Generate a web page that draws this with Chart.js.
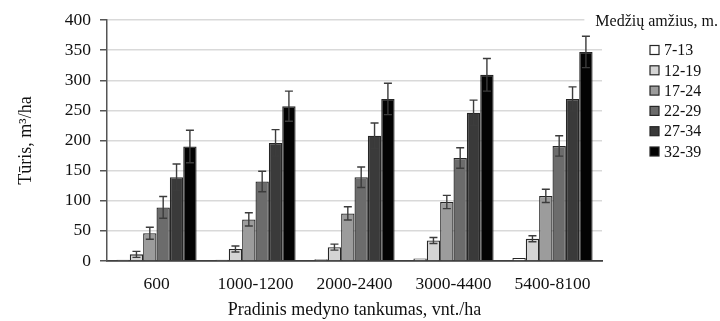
<!DOCTYPE html>
<html>
    <head>
        <script src="https://cdn.jsdelivr.net/npm/chart.js@4.4.0/dist/chart.umd.min.js"></script>
        <style>
            html, body { margin: 0; padding: 0; background: #fff; }
            #wrap { width: 720px; height: 321px; }
        </style>
    </head>
    <body>
        <div id="wrap">
            <canvas id="myChart"></canvas>
        </div>

        <script>
            // DATA
            const categories = ['600', '1000-1200', '2000-2400', '3000-4400', '5400-8100'];
            const ageGroups = ['7-13', '12-19', '17-24', '22-29', '27-34', '32-39'];

            const v7_13  = [2, 2, 3, 4, 5];
            const v12_19 = [11, 20, 23, 34, 37];
            const v17_24 = [46, 69, 79, 98, 108];
            const v22_29 = [89, 132, 139, 171, 191];
            const v27_34 = [139, 196, 208, 246, 269];
            const v32_39 = [190, 257, 269, 309, 347];

            // error bar half-widths (+/-)
            const e7_13  = [0, 0, 0, 0, 0];
            const e12_19 = [5, 5, 5, 5, 5];
            const e17_24 = [10, 11, 11, 11, 11];
            const e22_29 = [18, 17, 17, 17, 17];
            const e27_34 = [22, 22, 21, 21, 20];
            const e32_39 = [27, 25, 26, 27, 26];

            const yTicks = [0, 50, 100, 150, 200, 250, 300, 350, 400];

            const legendTitle = 'Medžių amžius, m.';
            const xTitle = 'Pradinis medyno tankumas, vnt./ha';
            const yTitle = 'Tūris, m³/ha';

            const fills = ['#ffffff', '#d4d4d4', '#9c9c9c', '#6c6c6c', '#3a3a3a', '#030303'];
            const values = [v7_13, v12_19, v17_24, v22_29, v27_34, v32_39];
            const errors = [e7_13, e12_19, e17_24, e22_29, e27_34, e32_39];

            const serif = '"Liberation Serif", "Times New Roman", serif';

            // SETUP
            const data = {
                labels: categories,
                datasets: ageGroups.map((g, i) => ({
                    label: g,
                    data: values[i],
                    err: errors[i],
                    backgroundColor: fills[i],
                    borderColor: '#262626',
                    borderWidth: 1.3,
                    categoryPercentage: 0.81,
                    barPercentage: 1.0
                }))
            };

            // error bars drawn through the y scale
            const errorBars = {
                id: 'errorBars',
                afterDatasetsDraw(chart) {
                    const ctx = chart.ctx;
                    const y = chart.scales.y;
                    ctx.save();
                    ctx.strokeStyle = '#3c3c3c';
                    ctx.lineWidth = 1.4;
                    chart.data.datasets.forEach((ds, i) => {
                        const meta = chart.getDatasetMeta(i);
                        meta.data.forEach((bar, j) => {
                            const e = ds.err[j];
                            if (!e) return;
                            const v = ds.data[j];
                            const top = y.getPixelForValue(v + e);
                            const bot = y.getPixelForValue(v - e);
                            const cap = 4;
                            ctx.beginPath();
                            ctx.moveTo(bar.x, top); ctx.lineTo(bar.x, bot);
                            ctx.moveTo(bar.x - cap, top); ctx.lineTo(bar.x + cap, top);
                            ctx.moveTo(bar.x - cap, bot); ctx.lineTo(bar.x + cap, bot);
                            ctx.stroke();
                        });
                    });
                    ctx.restore();
                }
            };

            // legend on the right with its title
            const sideLegend = {
                id: 'sideLegend',
                afterDraw(chart) {
                    const ctx = chart.ctx;
                    const area = chart.chartArea;
                    ctx.save();
                    ctx.font = '16px ' + serif;
                    ctx.textBaseline = 'middle';
                    ctx.textAlign = 'left';
                    const tw = ctx.measureText(legendTitle).width;
                    const tx = 718 - tw;
                    ctx.fillStyle = '#fff';
                    ctx.fillRect(tx - 11, area.top - 10, tw + 11, 20);
                    ctx.fillStyle = '#111';
                    ctx.fillText(legendTitle, tx, area.top + 2);

                    chart.data.datasets.forEach((ds, i) => {
                        const cy = 50 + i * 20.3;
                        ctx.fillStyle = ds.backgroundColor;
                        ctx.fillRect(650, cy - 4.5, 9, 9);
                        ctx.strokeStyle = '#262626';
                        ctx.lineWidth = 1.2;
                        ctx.strokeRect(650, cy - 4.5, 9, 9);
                        ctx.fillStyle = '#111';
                        ctx.fillText(ds.label, 664, cy + 1);
                    });
                    ctx.restore();
                }
            };

            // CONFIG
            const config = {
                type: 'bar',
                data,
                options: {
                    responsive: true,
                    maintainAspectRatio: false,
                    animation: false,
                    layout: { padding: { top: 20, right: 118, left: 0, bottom: 0 } },
                    plugins: {
                        legend: { display: false },
                        tooltip: { enabled: false }
                    },
                    scales: {
                        x: {
                            grid: { display: false },
                            border: { display: true, color: '#404040', width: 1.8 },
                            ticks: {
                                color: '#111',
                                font: { family: serif, size: 17.5 },
                                padding: 5,
                                maxRotation: 0
                            },
                            title: {
                                display: true,
                                text: xTitle,
                                color: '#111',
                                font: { family: serif, size: 18 },
                                padding: { top: 2, bottom: 0 }
                            },
                            afterFit: s => { s.height = 60; }
                        },
                        y: {
                            min: 0,
                            max: 400,
                            afterBuildTicks: s => { s.ticks = yTicks.map(v => ({ value: v })); },
                            grid: {
                                color: '#d9d9d9',
                                lineWidth: 1.5,
                                tickColor: '#555',
                                tickLength: 7
                            },
                            border: { display: true, color: '#555', width: 1.5 },
                            ticks: {
                                color: '#111',
                                font: { family: serif, size: 17.5 },
                                padding: 9
                            },
                            title: {
                                display: true,
                                text: yTitle,
                                color: '#111',
                                font: { family: serif, size: 18 },
                                padding: { top: 15, bottom: 0 }
                            },
                            afterFit: s => { s.width = 107; }
                        }
                    }
                },
                plugins: [errorBars, sideLegend]
            };

            // RENDER
            const myChart = new Chart(
                document.getElementById('myChart'),
                config
            );
        </script>
    </body>
</html>
